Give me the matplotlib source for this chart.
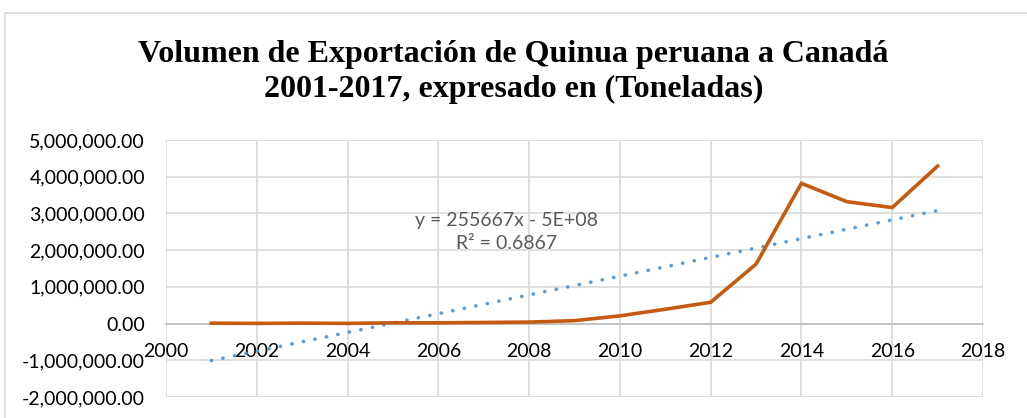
import matplotlib.pyplot as plt
import numpy as np
from matplotlib.ticker import FuncFormatter, MultipleLocator

# export volume per year (toneladas)
years = [2001, 2002, 2003, 2004, 2005, 2006, 2007, 2008, 2009,
         2010, 2011, 2012, 2013, 2014, 2015, 2016, 2017]
volumen = [10000, 5000, 12000, 5000, 20000, 20000, 30000, 40000, 80000,
           210000, 390000, 580000, 1620000, 3820000, 3320000, 3160000, 4290000]

title = "Volumen de Exportación de Quinua peruana a Canadá\n2001-2017, expresado en (Toneladas)"
trend_label = "y = 255667x - 5E+08\nR² = 0.6867"

ORANGE = "#C55A11"
BLUE = "#5B9BD5"
GRID = "#D9D9D9"

fig = plt.figure(figsize=(10.27, 4.18), dpi=100)
# outer chart border
fig.patches.append(plt.Rectangle((5 / 1027, -0.01), 1.1, 1 - 13 / 418 + 0.01,
                                 transform=fig.transFigure, fill=False,
                                 edgecolor=GRID, lw=1.2))
ax = fig.add_axes([166 / 1027, 1 - 397 / 418, (983 - 166) / 1027, (397 - 140) / 418])

x = np.array(years, dtype=float)
y = np.array(volumen, dtype=float)
slope, intercept = np.polyfit(x, y, 1)
ax.plot(x, slope * x + intercept, color=BLUE, lw=2.6, ls=(0, (0.05, 3.2)),
        dash_capstyle="round", zorder=3)
ax.plot(x, y, color=ORANGE, lw=2.6, solid_joinstyle="miter", zorder=4)

ax.set_xlim(2000, 2018)
ax.set_ylim(-2_000_000, 5_000_000)
ax.xaxis.set_major_locator(MultipleLocator(2))
ax.yaxis.set_major_locator(MultipleLocator(1_000_000))
ax.yaxis.set_major_formatter(FuncFormatter(lambda v, _: f"{v:,.2f}"))
ax.grid(True, color=GRID, lw=1.2, zorder=0)
ax.set_axisbelow(True)

for side in ("top", "right", "left"):
    ax.spines[side].set_visible(False)
ax.spines["bottom"].set_position(("data", 0))
ax.spines["bottom"].set_color("#BFBFBF")
ax.spines["bottom"].set_linewidth(1.2)
ax.tick_params(axis="both", length=0, labelsize=14, labelcolor="#000000")
ax.tick_params(axis="x", pad=14)
ax.tick_params(axis="y", pad=15)
for lab in ax.get_xticklabels() + ax.get_yticklabels():
    lab.set_family("Lato")

ax.text(2007.5, 2_500_000, trend_label, ha="center", va="center",
        fontsize=14, color="#595959", family="Lato", linespacing=1.4)

fig.text(0.5, 1 - 72 / 418, title, ha="center", va="center",
         fontsize=23, fontweight="bold", family="Liberation Serif",
         linespacing=1.3)

fig.savefig("out.png", dpi=100)
